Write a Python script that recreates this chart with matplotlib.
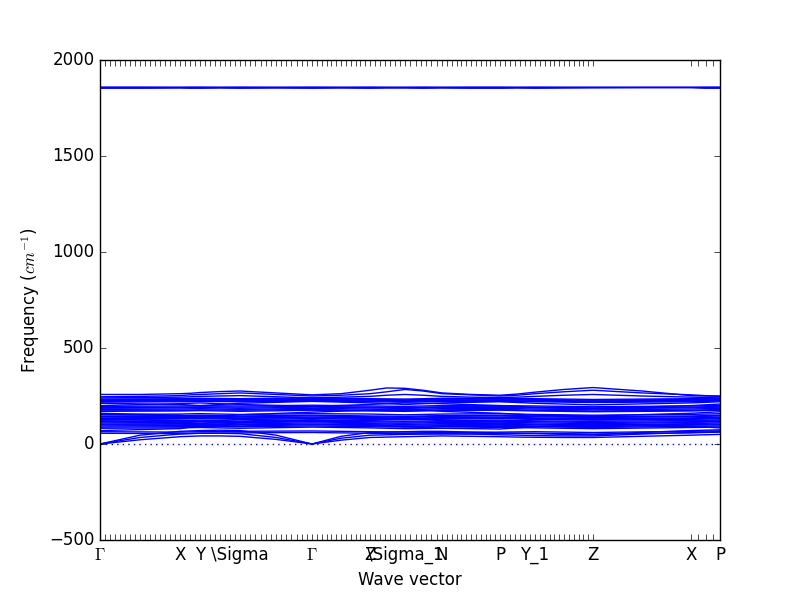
import numpy as np
import matplotlib
matplotlib.use('Agg')
import matplotlib.pyplot as plt

plt.style.use('classic')

# distance along the q-path at the high-symmetry points
kdist = [0, 80, 100, 140, 212, 270, 305, 342, 400, 435, 493, 591, 620]
klabels = [r'$\Gamma$', 'X', 'Y', r'\Sigma', r'$\Gamma$', 'Z', r'\Sigma_1', 'N',
           'P', 'Y_1', 'Z', 'X', 'P']
# q steps per segment (ticks are drawn at every q point)
nsteps = [16, 4, 8, 14, 12, 7, 7, 12, 7, 12, 1, 4]

# bands sampled at the special points and the middle of each segment
kfine = [0, 40, 80, 90, 100, 120, 140, 176, 212, 241, 270, 287, 305, 323,
         342, 371, 400, 417, 435, 464, 493, 542, 591, 605, 620]

acoustic = [
    [0, 22, 38, 40, 42, 42, 40, 24, 0, 20, 34, 36, 38, 40, 42, 40, 38, 36, 35, 34, 34, 40, 46, 48, 50],
    [0, 34, 52, 54, 56, 56, 54, 34, 0, 30, 46, 48, 50, 52, 54, 52, 48, 46, 44, 42, 42, 52, 60, 62, 64],
    [0, 46, 66, 68, 70, 72, 70, 46, 0, 40, 60, 62, 64, 66, 66, 62, 58, 56, 54, 50, 48, 60, 70, 72, 74],
]
upper = [
    [258, 258, 262, 264, 268, 273, 276, 266, 256, 262, 280, 292, 290, 280, 266, 258, 254, 260, 270, 284, 294, 276, 252, 250, 248],
    [246, 248, 252, 256, 258, 262, 266, 258, 250, 254, 262, 272, 284, 276, 262, 256, 250, 254, 262, 272, 280, 266, 256, 252, 250],
    [240, 242, 244, 246, 248, 250, 252, 246, 240, 244, 248, 254, 258, 254, 248, 244, 242, 244, 248, 254, 258, 250, 244, 242, 240],
]
high = [
    [1853, 1853, 1854, 1853, 1853, 1854, 1853, 1854, 1853, 1854, 1853, 1854, 1854, 1853, 1854, 1853, 1853, 1854, 1853, 1854, 1855, 1856, 1856, 1853, 1853],
    [1856, 1856, 1857, 1856, 1856, 1857, 1856, 1857, 1856, 1857, 1856, 1857, 1857, 1856, 1857, 1856, 1856, 1857, 1856, 1857, 1857, 1857, 1857, 1856, 1856],
    [1859, 1859, 1858, 1859, 1859, 1858, 1859, 1858, 1859, 1858, 1859, 1858, 1858, 1859, 1858, 1859, 1859, 1858, 1859, 1858, 1858, 1858, 1858, 1859, 1859],
]

# optical bands, values at the high-symmetry points only
optical = [
    [56, 54, 56, 58, 60, 56, 54, 52, 54, 56, 52, 58, 62],
    [64, 62, 64, 66, 68, 64, 62, 60, 62, 64, 60, 66, 68],
    [82, 84, 86, 82, 88, 84, 80, 82, 86, 84, 80, 86, 88],
    [88, 90, 92, 90, 94, 90, 88, 90, 92, 90, 86, 92, 94],
    [94, 96, 98, 94, 100, 96, 92, 96, 98, 94, 90, 98, 100],
    [100, 100, 102, 100, 104, 100, 98, 100, 102, 100, 96, 102, 104],
    [104, 106, 106, 104, 110, 106, 102, 106, 108, 104, 100, 106, 110],
    [110, 112, 114, 110, 116, 110, 108, 112, 114, 110, 106, 112, 116],
    [116, 116, 118, 116, 120, 116, 114, 116, 118, 116, 112, 116, 120],
    [120, 122, 124, 120, 126, 122, 118, 122, 124, 120, 118, 122, 126],
    [128, 130, 132, 128, 132, 130, 126, 130, 132, 128, 124, 128, 132],
    [132, 134, 136, 134, 136, 134, 130, 134, 136, 132, 128, 132, 136],
    [136, 138, 140, 136, 140, 138, 134, 138, 140, 136, 132, 136, 140],
    [142, 144, 146, 142, 146, 142, 140, 144, 146, 142, 138, 142, 146],
    [146, 148, 150, 146, 150, 146, 144, 148, 150, 146, 142, 146, 150],
    [154, 156, 158, 154, 158, 156, 152, 156, 158, 154, 150, 154, 158],
    [170, 172, 174, 170, 176, 172, 170, 174, 176, 172, 168, 172, 176],
    [176, 176, 178, 176, 180, 176, 174, 178, 180, 176, 172, 176, 180],
    [180, 182, 184, 180, 186, 182, 180, 184, 186, 182, 178, 182, 186],
    [186, 188, 190, 186, 192, 188, 186, 190, 190, 188, 184, 188, 192],
    [190, 192, 194, 192, 196, 192, 190, 194, 194, 192, 188, 192, 196],
    [196, 198, 200, 198, 202, 198, 196, 200, 200, 198, 194, 198, 202],
    [218, 220, 222, 220, 224, 220, 218, 222, 222, 220, 216, 220, 224],
    [222, 224, 226, 224, 228, 224, 222, 226, 226, 224, 220, 224, 228],
    [226, 228, 230, 228, 232, 228, 226, 230, 230, 228, 224, 228, 230],
    [230, 232, 234, 232, 236, 232, 230, 234, 234, 232, 228, 232, 234],
    [234, 236, 238, 236, 240, 236, 234, 238, 238, 236, 232, 236, 238],
    [70, 80, 96, 110, 124, 100, 90, 82, 78, 90, 104, 92, 84],
    [160, 150, 140, 152, 166, 176, 186, 170, 160, 150, 146, 160, 168],
    [200, 210, 214, 206, 196, 206, 214, 210, 200, 190, 186, 200, 208],
    [124, 134, 144, 130, 118, 128, 138, 126, 116, 126, 136, 124, 118],
    [212, 206, 200, 212, 222, 214, 206, 214, 220, 212, 204, 214, 220],
]

fig, ax = plt.subplots(figsize=(8, 6), dpi=100)

for band in acoustic + upper + high:
    ax.plot(kfine, band, 'b-', lw=1)
for band in optical:
    ax.plot(kdist, band, 'b-', lw=1)

ax.axhline(0, color='b', ls=':', lw=1)

# every q point gets a tick, labels only at the special points
qpts = []
for i, n in enumerate(nsteps):
    qpts.extend(np.linspace(kdist[i], kdist[i + 1], n + 1)[:-1])
qpts.append(kdist[-1])
ax.set_xticks(qpts, minor=True)
ax.set_xticks(kdist)
ax.set_xticklabels(klabels)
ax.tick_params(axis='x', which='minor', length=4)

ax.set_xlim(kdist[0], kdist[-1])
ax.set_ylim(-500, 2000)
ax.set_xlabel('Wave vector')
ax.set_ylabel('Frequency ($cm^{-1}$)')

plt.savefig('out.png', dpi=100)
